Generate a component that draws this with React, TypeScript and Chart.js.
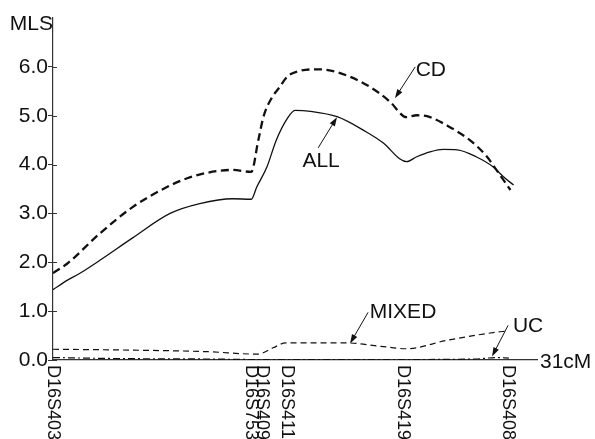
import React, { useEffect, useRef } from "react";
import { Chart, registerables } from "chart.js";

Chart.register(...registerables);

// Markers on the x axis (cM) and their names
const markerNames = ["D16S403", "D16S753", "D16S409", "D16S411", "D16S419", "D16S408"];
const markerPos = [0, 12.7, 13.4, 15.0, 22.4, 29.15];

// Y axis ticks
const yTicks = [0, 1, 2, 3, 4, 5, 6];

// ALL (solid)
const allCM = [0, 0.9, 1.7, 3.0, 5.1, 7.5, 9.4, 11.5, 12.7, 13.05, 13.7, 14.3, 15.0, 15.5, 16.5, 18.2, 19.9, 21.2, 22.2, 22.65, 23.3, 24.15, 25.0, 25.9, 27.1, 28.2, 28.85, 29.5];
const allMLS = [1.44, 1.63, 1.77, 2.04, 2.5, 3.0, 3.2, 3.3, 3.29, 3.54, 3.95, 4.5, 4.94, 5.11, 5.09, 4.98, 4.7, 4.43, 4.12, 4.06, 4.16, 4.26, 4.31, 4.3, 4.16, 3.95, 3.75, 3.58];

// CD (bold dashed)
const cdCM = [0, 0.9, 3.0, 5.1, 7.3, 8.6, 9.85, 11.5, 12.7, 13.15, 13.5, 14.0, 14.5, 15.0, 15.6, 16.9, 17.7, 19.0, 20.3, 21.6, 22.45, 22.65, 23.3, 24.15, 25.4, 26.7, 27.8, 28.4, 29.3];
const cdMLS = [1.78, 1.97, 2.59, 3.13, 3.54, 3.72, 3.83, 3.89, 3.85, 4.5, 5.0, 5.36, 5.58, 5.8, 5.9, 5.95, 5.93, 5.8, 5.59, 5.28, 4.99, 4.97, 5.01, 4.97, 4.77, 4.5, 4.16, 3.89, 3.48];

// MIXED (thin dashed)
const mixedCM = [0, 5.5, 9.9, 13.1, 14.1, 14.9, 18.8, 21.0, 22.65, 25.2, 28.4, 29.0];
const mixedMLS = [0.22, 0.2, 0.17, 0.12, 0.25, 0.35, 0.35, 0.28, 0.23, 0.4, 0.57, 0.59];

// UC (dash-dot, near zero)
const ucCM = [0, 4, 10, 13, 18, 22.6, 27, 28.4, 29.2];
const ucMLS = [0.05, 0.03, 0.02, 0.01, 0.01, 0.01, 0.02, 0.05, 0.04];

// Annotation labels with arrows (in data coordinates)
const annotLabels = ["CD", "ALL", "MIXED", "UC"];
const annotTextX = [24.2, 17.17, 22.42, 30.43];
const annotTextY = [5.93, 4.07, 0.975, 0.69];
const arrowFromX = [23.2, 16.98, 20.18, 29.15];
const arrowFromY = [6.0, 4.34, 0.975, 0.71];
const arrowToX = [21.9, 18.19, 19.03, 28.12];
const arrowToY = [5.36, 4.97, 0.34, 0.074];

const FONT = '"Liberation Sans", Arial, Helvetica, sans-serif';
const INK = "#111";

const toPts = (xs: number[], ys: number[]) => xs.map((x, i) => ({ x, y: ys[i] }));

const overlayPlugin = {
  id: "overlay",
  afterDraw(chart: any) {
    const ctx = chart.ctx;
    const xs = chart.scales.x;
    const ys = chart.scales.y;
    const area = chart.chartArea;
    ctx.save();
    ctx.fillStyle = INK;
    ctx.strokeStyle = INK;

    // inner halves of the y tick marks (ticks cross the axis)
    ctx.strokeStyle = "#333";
    ctx.lineWidth = 1;
    yTicks.forEach((v) => {
      const py = Math.round(ys.getPixelForValue(v)) + 0.5;
      ctx.beginPath();
      ctx.moveTo(area.left, py);
      ctx.lineTo(area.left + 4, py);
      ctx.stroke();
    });
    ctx.strokeStyle = INK;

    // rotated marker labels
    ctx.font = `18px ${FONT}`;
    markerNames.forEach((name, i) => {
      const px = xs.getPixelForValue(markerPos[i]);
      ctx.save();
      ctx.translate(px, area.bottom + 5);
      ctx.rotate(Math.PI / 2);
      ctx.textAlign = "left";
      ctx.textBaseline = "middle";
      ctx.fillText(name, 0, 0);
      ctx.restore();
    });

    // axis titles
    ctx.font = `21px ${FONT}`;
    ctx.textAlign = "right";
    ctx.textBaseline = "alphabetic";
    ctx.fillText("MLS", area.left, area.top + 12);
    ctx.textAlign = "left";
    ctx.textBaseline = "middle";
    ctx.fillText("31cM", area.right + 3, area.bottom + 2);

    // annotation texts + arrows
    ctx.textAlign = "center";
    ctx.textBaseline = "middle";
    annotLabels.forEach((lab, i) => {
      const tx = xs.getPixelForValue(annotTextX[i]);
      const ty = ys.getPixelForValue(annotTextY[i]);
      ctx.fillText(lab, tx, ty);
      const x1 = xs.getPixelForValue(arrowFromX[i]);
      const y1 = ys.getPixelForValue(arrowFromY[i]);
      const x2 = xs.getPixelForValue(arrowToX[i]);
      const y2 = ys.getPixelForValue(arrowToY[i]);
      const ang = Math.atan2(y2 - y1, x2 - x1);
      const hl = 9;
      const hw = 3;
      ctx.lineWidth = 1;
      ctx.setLineDash([]);
      ctx.beginPath();
      ctx.moveTo(x1, y1);
      ctx.lineTo(x2 - Math.cos(ang) * hl * 0.8, y2 - Math.sin(ang) * hl * 0.8);
      ctx.stroke();
      ctx.beginPath();
      ctx.moveTo(x2, y2);
      ctx.lineTo(
        x2 - Math.cos(ang) * hl + Math.sin(ang) * hw,
        y2 - Math.sin(ang) * hl - Math.cos(ang) * hw
      );
      ctx.lineTo(
        x2 - Math.cos(ang) * hl - Math.sin(ang) * hw,
        y2 - Math.sin(ang) * hl + Math.cos(ang) * hw
      );
      ctx.closePath();
      ctx.fill();
    });
    ctx.restore();
  },
};

export default function App() {
  const ref = useRef<HTMLCanvasElement | null>(null);

  useEffect(() => {
    if (!ref.current) return;
    const common = {
      pointRadius: 0,
      pointHoverRadius: 0,
      fill: false,
      borderColor: INK,
      cubicInterpolationMode: "monotone" as const,
    };
    const chart = new Chart(ref.current, {
      type: "line",
      data: {
        datasets: [
          { ...common, label: "ALL", data: toPts(allCM, allMLS), borderWidth: 1.3 },
          { ...common, label: "CD", data: toPts(cdCM, cdMLS), borderWidth: 2.3, borderDash: [8, 4.5] },
          { ...common, label: "MIXED", data: toPts(mixedCM, mixedMLS), borderWidth: 1.2, borderDash: [6, 4] },
          { ...common, label: "UC", data: toPts(ucCM, ucMLS), borderWidth: 1.2, borderDash: [7, 3, 2, 3] },
        ],
      },
      options: {
        responsive: false,
        animation: false,
        devicePixelRatio: 1,
        layout: { padding: { left: 0, top: 18, right: 58, bottom: 0 } },
        plugins: {
          legend: { display: false },
          tooltip: { enabled: false },
          title: { display: false },
        },
        scales: {
          x: {
            type: "linear",
            min: 0,
            max: 31,
            afterBuildTicks: (s: any) => {
              s.ticks = markerPos.map((v) => ({ value: v }));
            },
            afterFit: (s: any) => {
              s.height = 79;
            },
            ticks: { display: false },
            grid: { display: true, drawOnChartArea: false, drawTicks: false },
            border: { display: true, color: "#333", width: 1.2 },
          },
          y: {
            type: "linear",
            min: 0,
            max: 7,
            afterBuildTicks: (s: any) => {
              s.ticks = yTicks.map((v) => ({ value: v }));
            },
            afterFit: (s: any) => {
              s.width = 53;
            },
            ticks: {
              color: INK,
              padding: 0,
              font: { family: FONT, size: 21 },
              callback: (v: any) => Number(v).toFixed(1),
            },
            grid: {
              display: true,
              drawOnChartArea: false,
              drawTicks: true,
              tickLength: 5,
              color: "#333",
            },
            border: { display: true, color: "#333", width: 1.2 },
          },
        },
      },
      plugins: [overlayPlugin],
    });
    return () => chart.destroy();
  }, []);

  return (
    <div style={{ position: "fixed", left: 0, top: 0, width: 595, height: 439, background: "#fff" }}>
      <canvas ref={ref} width={595} height={439} style={{ display: "block" }} />
    </div>
  );
}
